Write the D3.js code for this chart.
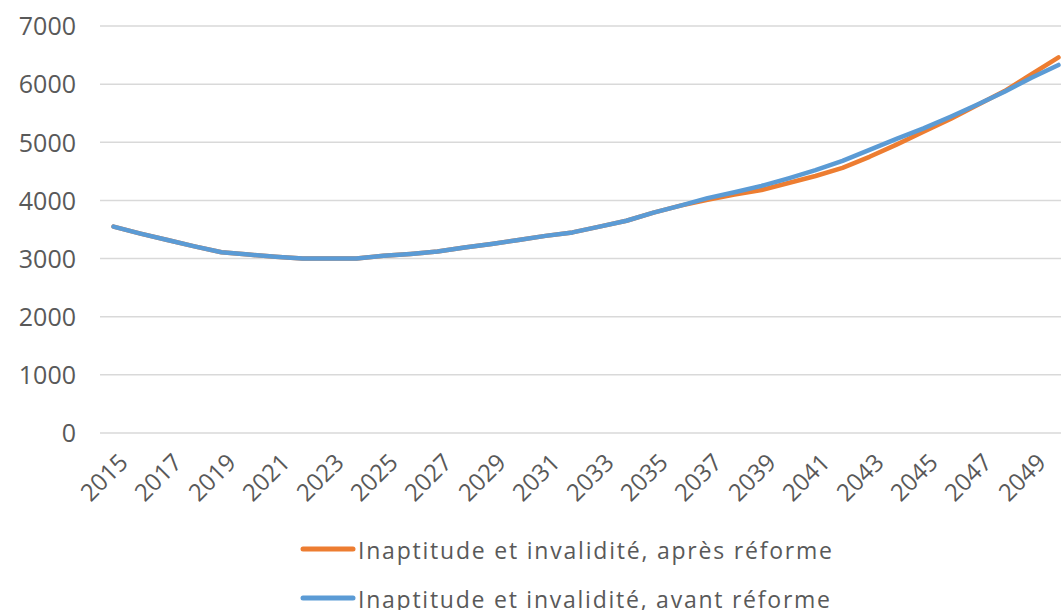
<!DOCTYPE html>
<html>
<head>
<meta charset="utf-8">
<script src="https://cdn.jsdelivr.net/npm/d3@7"></script>
<style>
  html, body { margin: 0; padding: 0; background: #fff; }
  svg { display: block; }
  text { font-family: "Open Sans", Lato, sans-serif; fill: #595959; }
</style>
</head>
<body>
<svg id="chart" width="1061" height="610"></svg>
<script>
// Years 2015–2050
const years = d3.range(2015, 2051);
const tickYears = d3.range(2015, 2050, 2);
const yTicks = [0, 1000, 2000, 3000, 4000, 5000, 6000, 7000];

// Inaptitude et invalidité, après réforme
const apresReforme = [3550, 3430, 3320, 3210, 3110, 3070, 3030, 3000, 3000, 3000,
  3050, 3080, 3120, 3190, 3250, 3320, 3390, 3450, 3550, 3650,
  3790, 3910, 4010, 4100, 4180, 4300, 4420, 4560, 4750, 4960,
  5180, 5400, 5640, 5880, 6170, 6460];

// Inaptitude et invalidité, avant réforme
const avantReforme = [3550, 3430, 3320, 3210, 3110, 3070, 3030, 3000, 3000, 3000,
  3050, 3080, 3120, 3190, 3250, 3320, 3390, 3450, 3550, 3650,
  3790, 3910, 4040, 4140, 4250, 4380, 4520, 4680, 4870, 5060,
  5240, 5440, 5650, 5870, 6110, 6330];

const seriesNames = ["Inaptitude et invalidité, après réforme", "Inaptitude et invalidité, avant réforme"];
const seriesColors = ["#ED7D31", "#5B9BD5"];

const svg = d3.select("#chart");
const plot = { left: 100, right: 1072, top: 26, bottom: 433 };

const x = d3.scaleBand().domain(years).range([plot.left, plot.right]);
const xc = d => x(d) + x.bandwidth() / 2;
const y = d3.scaleLinear().domain([0, 7000]).range([plot.bottom, plot.top]);

// Horizontal gridlines
svg.append("g").selectAll("line").data(yTicks).join("line")
  .attr("x1", plot.left).attr("x2", plot.right)
  .attr("y1", d => y(d)).attr("y2", d => y(d))
  .attr("stroke", "#d9d9d9").attr("stroke-width", 1.5);

// Y axis labels
const yAxis = d3.axisLeft(y).tickValues(yTicks).tickFormat(d3.format("d")).tickSize(0).tickPadding(0);
const gy = svg.append("g").attr("transform", "translate(76,0)").call(yAxis);
gy.select(".domain").remove();
gy.selectAll("text").style("font-size", "25px").attr("fill", "#595959").attr("dy", "0.35em");

// X axis labels, rotated
const xAxis = d3.axisBottom(x).tickValues(tickYears).tickSize(0).tickPadding(0);
const gx = svg.append("g").attr("transform", `translate(0,${plot.bottom})`).call(xAxis);
gx.select(".domain").remove();
gx.selectAll("text")
  .style("font-size", "24px").attr("fill", "#595959")
  .attr("text-anchor", "end")
  .attr("dy", "0.35em").attr("y", 0)
  .attr("transform", "translate(10,25) rotate(-45)");

// Lines
const line = d3.line().x((d, i) => xc(years[i])).y(d => y(d));
[apresReforme, avantReforme].forEach((vals, k) => {
  svg.append("path").datum(vals)
    .attr("d", line)
    .attr("fill", "none")
    .attr("stroke", seriesColors[k])
    .attr("stroke-width", 4.5)
    .attr("stroke-linecap", "round")
    .attr("stroke-linejoin", "round");
});

// Legend
const legend = svg.append("g");
seriesNames.forEach((name, k) => {
  const ly = 549 + k * 49;
  legend.append("line")
    .attr("x1", 303).attr("x2", 353).attr("y1", ly).attr("y2", ly)
    .attr("stroke", seriesColors[k]).attr("stroke-width", 5).attr("stroke-linecap", "round");
  legend.append("text")
    .attr("x", 358).attr("y", ly + 2).attr("dy", "0.35em")
    .style("font-size", "23px")
    .attr("textLength", k === 0 ? 474 : 472).attr("lengthAdjust", "spacing")
    .text(name);
});
</script>
</body>
</html>
